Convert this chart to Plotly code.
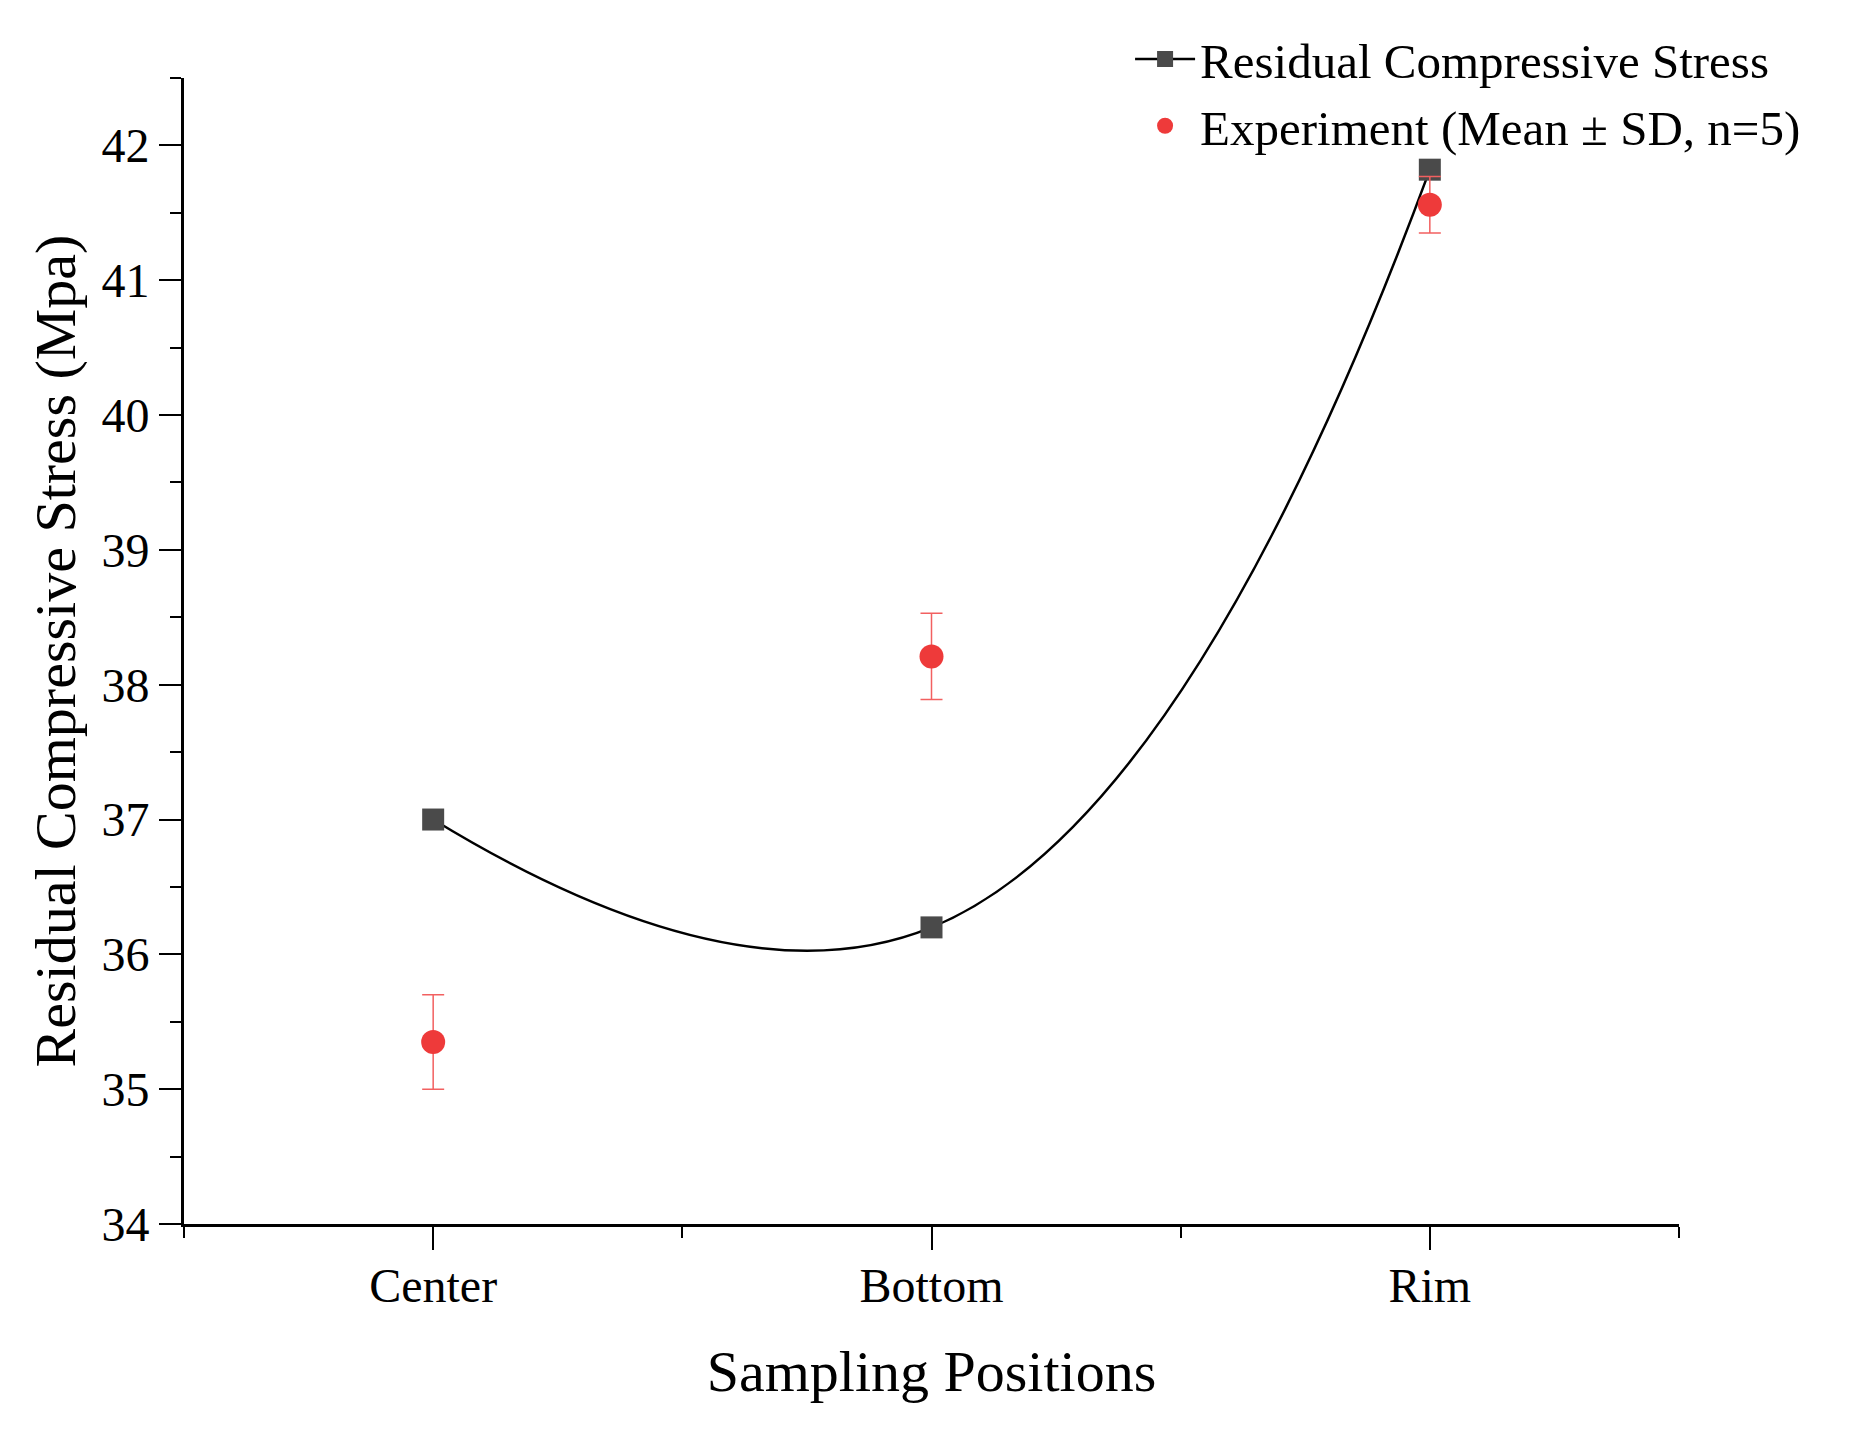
import plotly.graph_objects as go

categories = ["Center", "Bottom", "Rim"]
sim_stress = [37.0, 36.2, 41.82]
exp_mean = [35.35, 38.21, 41.56]
exp_sd = [0.35, 0.32, 0.21]
y_ticks = [34, 35, 36, 37, 38, 39, 40, 41, 42]

xpos = list(range(len(categories)))
FONT = "Liberation Serif"

fig = go.Figure()
fig.add_trace(go.Scatter(
    x=xpos, y=sim_stress, mode="lines+markers",
    name="Residual Compressive Stress",
    line=dict(color="black", width=2.5, shape="spline", smoothing=1.3),
    marker=dict(symbol="square", size=22, color="#4a4a4a"),
))
fig.add_trace(go.Scatter(
    x=xpos, y=exp_mean, mode="markers",
    name="Experiment (Mean ± SD, n=5)",
    marker=dict(symbol="circle", size=24, color="#ee3a3a"),
    error_y=dict(type="data", array=exp_sd, visible=True, color="#f26060", thickness=1.5, width=11),
))

fig.update_layout(
    width=1863, height=1440,
    margin=dict(l=184, r=184, t=78, b=216),
    paper_bgcolor="white", plot_bgcolor="white",
    font=dict(family=FONT, color="black"),
    showlegend=True,
    legend=dict(
        x=1.085, xanchor="right", y=1.05, yanchor="top",
        font=dict(family=FONT, size=49, color="black"),
        bgcolor="rgba(0,0,0,0)",
        itemwidth=60,
        tracegroupgap=0,
    ),
    xaxis=dict(
        range=[-0.5, 2.5],
        tickvals=xpos, ticktext=categories,
        showgrid=False, zeroline=False,
        showline=True, linecolor="black", linewidth=3,
        ticks="outside", ticklen=23, tickwidth=2, tickcolor="black",
        ticklabelstandoff=-6,
        tickfont=dict(family=FONT, size=48, color="black"),
        minor=dict(tickvals=[-0.5, 0.5, 1.5, 2.5], ticks="outside", ticklen=11, tickwidth=2, tickcolor="black"),
        title=dict(text="Sampling Positions", font=dict(family=FONT, size=58, color="black"), standoff=40),
    ),
    yaxis=dict(
        range=[34, 42.5],
        tickvals=y_ticks,
        showgrid=False, zeroline=False,
        showline=True, linecolor="black", linewidth=3,
        ticks="outside", ticklen=22, tickwidth=2, tickcolor="black",
        ticklabelstandoff=0,
        tickfont=dict(family=FONT, size=48, color="black"),
        minor=dict(dtick=0.5, ticks="outside", ticklen=11, tickwidth=2, tickcolor="black"),
        title=dict(text="Residual Compressive Stress (Mpa)", font=dict(family=FONT, size=58, color="black"), standoff=8),
    ),
)

fig.write_html("out.html")
